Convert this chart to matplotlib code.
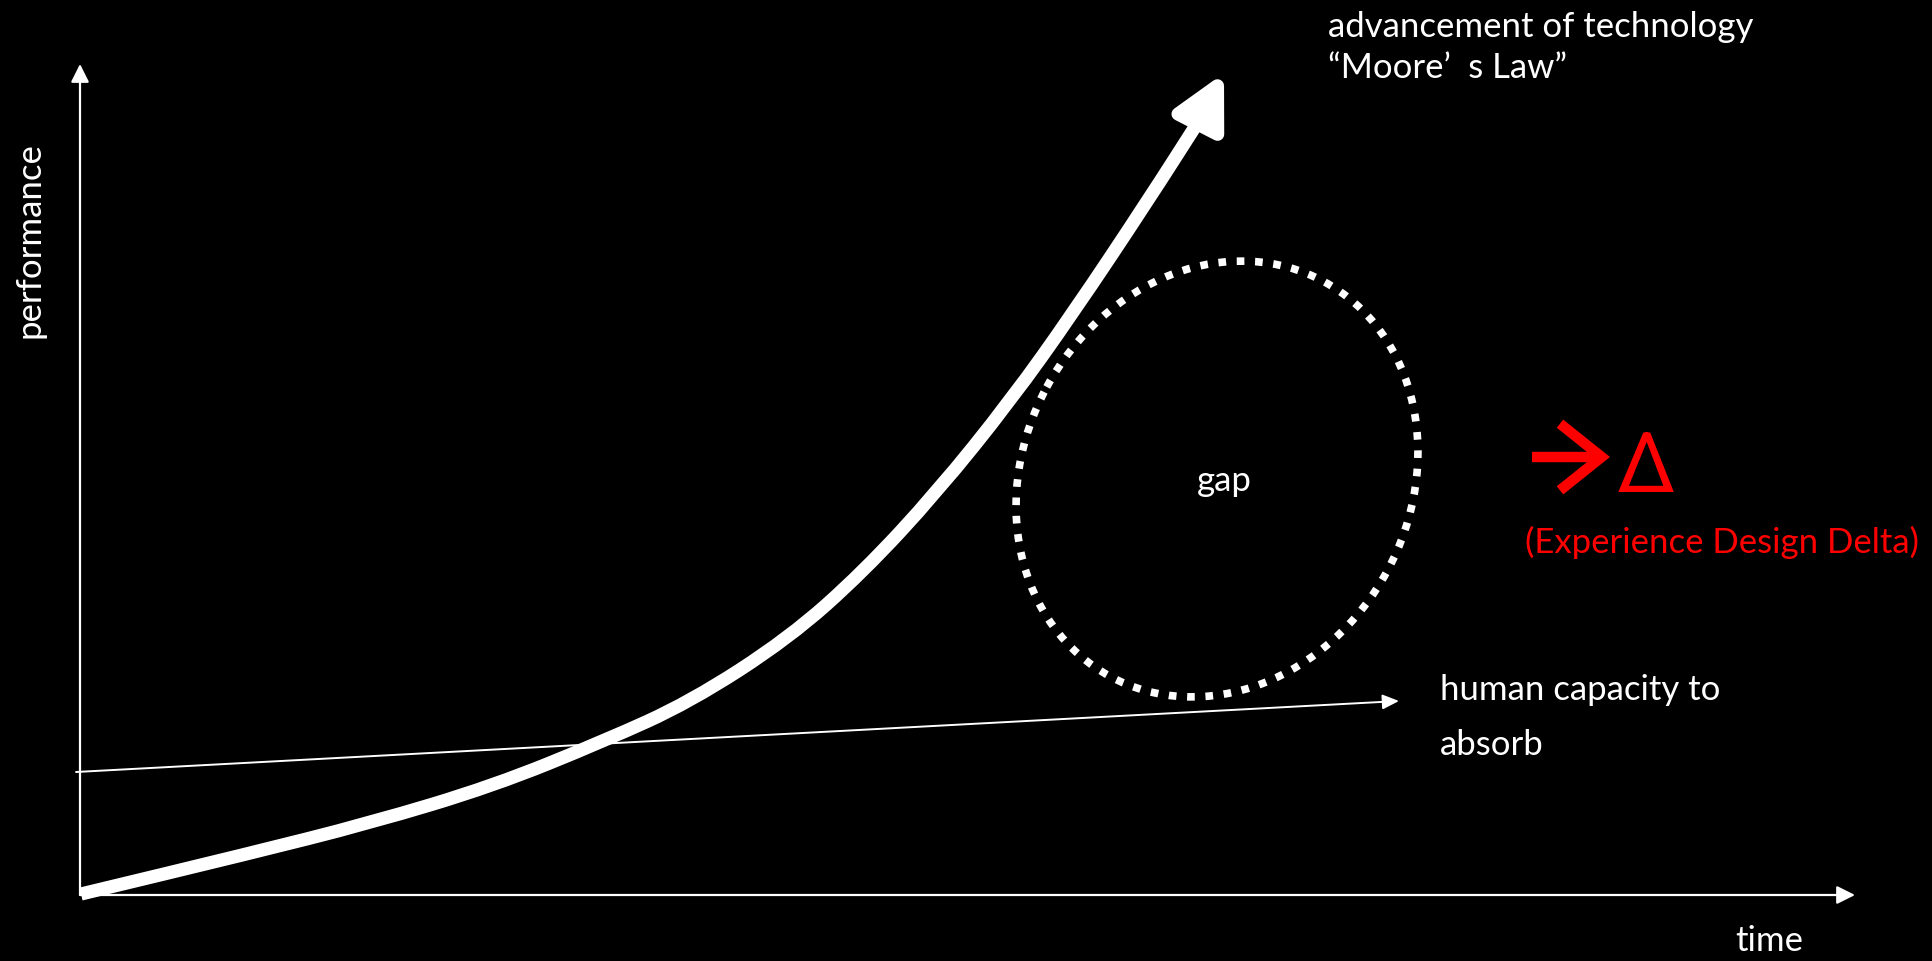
import matplotlib.pyplot as plt
from matplotlib.patches import FancyArrowPatch, Ellipse
from matplotlib.path import Path

# everything is laid out in pixel-like units, y going down
# technology curve ("Moore's Law")
tech_x = [81, 247, 370, 493, 604, 690, 789, 863, 937, 1011, 1073, 1147, 1202, 1224]
tech_y = [895, 855, 824, 787, 742, 703, 639, 573, 493, 401, 314, 203, 117, 74]

# human capacity to absorb (almost flat)
human_x = [76, 1399]
human_y = [773, 702]

# the gap ellipse: centre, size, tilt
gap_center = (1217, 480)
gap_size = (449, 387)
gap_angle = -61.6

plt.rcParams['font.family'] = ['Lato', 'DejaVu Sans']

fig = plt.figure(figsize=(19.33, 9.62), dpi=100, facecolor="black")
ax = fig.add_axes([0, 0, 1, 1])
ax.set_facecolor("black")
ax.set_xlim(0, 1933)
ax.set_ylim(962, 0)
ax.axis("off")

# axes drawn as arrows
axis_style = dict(arrowstyle="-|>,head_length=11,head_width=5.5", color="white",
                  lw=1.6, shrinkA=0, shrinkB=0, mutation_scale=1)
ax.annotate("", xy=(80, 65), xytext=(80, 896), arrowprops=axis_style)
ax.annotate("", xy=(1855, 896), xytext=(80, 896), arrowprops=axis_style)

# human capacity line
ax.annotate("", xy=(human_x[1], human_y[1]), xytext=(human_x[0], human_y[0]),
            arrowprops=dict(arrowstyle="-|>,head_length=10,head_width=4.5", color="white",
                            lw=1.4, shrinkA=0, shrinkB=0, mutation_scale=1))

# big technology arrow: smooth quadratic path through the read points,
# the last stretch straight into the arrow head
pts = list(zip(tech_x, tech_y))
mid = lambda a, b: ((a[0] + b[0]) / 2, (a[1] + b[1]) / 2)
verts = [pts[0], mid(pts[0], pts[1])]
codes = [Path.MOVETO, Path.LINETO]
for i in range(1, len(pts) - 2):
    verts += [pts[i], mid(pts[i], pts[i + 1])]
    codes += [Path.CURVE3, Path.CURVE3]
verts += [pts[-2], pts[-1]]
codes += [Path.LINETO, Path.LINETO]
tech_arrow = FancyArrowPatch(path=Path(verts, codes),
                             arrowstyle="-|>,head_length=31,head_width=16",
                             mutation_scale=1, color="white", lw=9.5,
                             joinstyle="round", capstyle="butt")
ax.add_patch(tech_arrow)

# dotted gap circle
gap = Ellipse(gap_center, gap_size[0], gap_size[1], angle=gap_angle, fill=False,
              edgecolor="white", lw=5.5, linestyle=(0, (1, 1.4)))
gap.set_capstyle("butt")
ax.add_patch(gap)

fs = 25
ax.text(1328, 27, "advancement of technology", color="white", fontsize=fs, va="center", ha="left")
ax.text(1328, 68, "\u201cMoore\u2019\u2002s Law\u201d", color="white", fontsize=fs, va="center", ha="left")
ax.text(30, 240, "performance", color="white", fontsize=fs, rotation=90, va="center", ha="center")
ax.text(1224, 481, "gap", color="white", fontsize=fs, va="center", ha="center")
ax.text(1440, 690, "human capacity to", color="white", fontsize=fs, va="center", ha="left")
ax.text(1440, 745, "absorb", color="white", fontsize=fs, va="center", ha="left")
ax.text(1769, 941, "time", color="white", fontsize=fs, va="center", ha="center")

# red arrow and delta
ax.annotate("", xy=(1610, 458), xytext=(1532, 458),
            arrowprops=dict(arrowstyle="->,head_length=30,head_width=24", color="red",
                            lw=7.5, shrinkA=0, shrinkB=0, mutation_scale=1,
                            joinstyle="miter", capstyle="butt"))
ax.text(1646, 492, "\u0394", color="red", fontsize=60,
        family=["Liberation Sans Narrow", "Roboto", "DejaVu Sans"], va="baseline", ha="center")
ax.text(1525, 542, "(Experience Design Delta)", color="red", fontsize=fs, va="center", ha="left")

fig.savefig("out.png", dpi=100, facecolor="black")
